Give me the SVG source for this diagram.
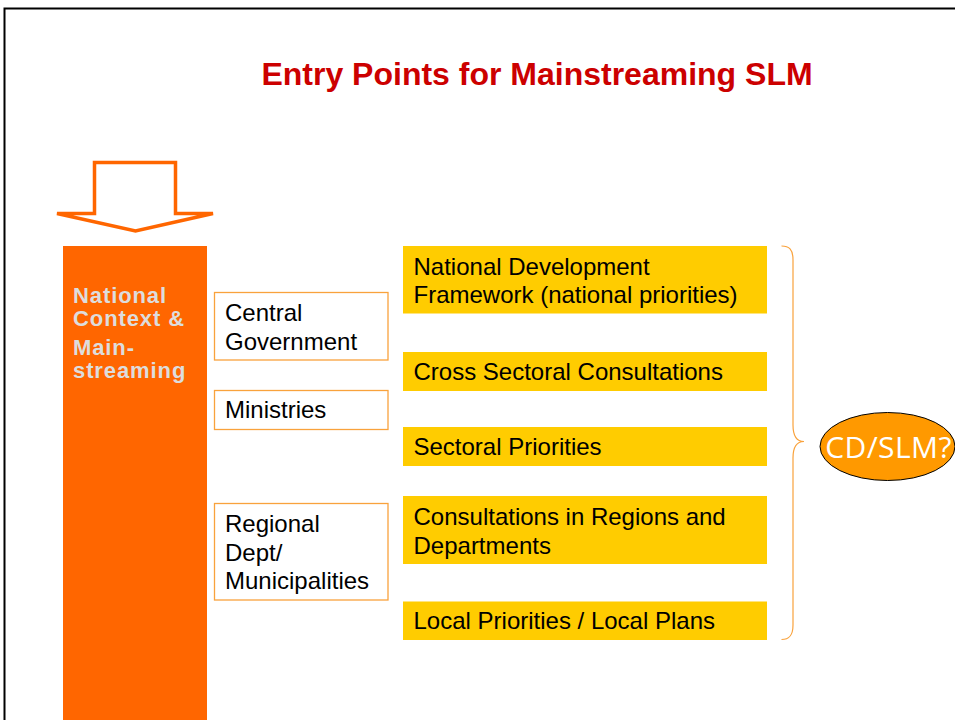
<svg xmlns="http://www.w3.org/2000/svg" width="955" height="720" viewBox="0 0 955 720">
<style>
.t{font-family:"Liberation Sans",Arial,sans-serif;font-size:24px;fill:#000}
.wb{fill:#fff;stroke:#F9A23C;stroke-width:1.3}
.yb{fill:#FFCC00}
.ctx{font-family:"Liberation Sans",Arial,sans-serif;font-size:22px;font-weight:bold;fill:#DDDDDD;letter-spacing:0.9px}
</style>
<rect x="0" y="0" width="955" height="720" fill="#fff"/>
<path d="M4.5,730 V8.5 H960" fill="none" stroke="#000" stroke-width="2"/>
<text x="537" y="85" text-anchor="middle" font-family="'Liberation Sans',Arial,sans-serif" font-size="32" font-weight="bold" fill="#CC0000">Entry Points for Mainstreaming SLM</text>
<g id="arrow">
<polygon points="94.5,162.5 175.5,162.5 175.5,213.5 213,213.5 135.5,231 57,213.5 94.5,213.5" fill="#fff" stroke="#FF6600" stroke-width="3.5" stroke-linejoin="miter"/>
</g>
<g id="context">
<rect x="63" y="246" width="144" height="480" fill="#FF6600"/>
<text class="ctx"><tspan x="73" y="303">National</tspan><tspan x="73" y="326">Context &amp;</tspan><tspan x="73" y="355">Main-</tspan><tspan x="73" y="378">streaming</tspan></text>
</g>
<g id="central">
<rect class="wb" x="214.5" y="292.5" width="173.5" height="67.5"/>
<text class="t"><tspan x="225" y="321">Central</tspan><tspan x="225" y="350">Government</tspan></text>
</g>
<g id="ministries">
<rect class="wb" x="214.5" y="390.5" width="173.5" height="39"/>
<text class="t" x="225" y="418">Ministries</text>
</g>
<g id="regional">
<rect class="wb" x="214.5" y="503.5" width="173.5" height="96.5"/>
<text class="t"><tspan x="225" y="532">Regional</tspan><tspan x="225" y="561">Dept/</tspan><tspan x="225" y="589">Municipalities</tspan></text>
</g>
<g id="ndf">
<rect class="yb" x="403" y="246" width="364" height="67.5"/>
<text class="t"><tspan x="413.5" y="275">National Development</tspan><tspan x="413.5" y="303">Framework (national priorities)</tspan></text>
</g>
<g id="cross">
<rect class="yb" x="403" y="352" width="364" height="39"/>
<text class="t" x="413.5" y="380">Cross Sectoral Consultations</text>
</g>
<g id="sectoral">
<rect class="yb" x="403" y="427" width="364" height="39"/>
<text class="t" x="413.5" y="455">Sectoral Priorities</text>
</g>
<g id="regcons">
<rect class="yb" x="403" y="496" width="364" height="68"/>
<text class="t"><tspan x="413.5" y="525">Consultations in Regions and</tspan><tspan x="413.5" y="554">Departments</tspan></text>
</g>
<g id="local">
<rect class="yb" x="403" y="601.5" width="364" height="38.5"/>
<text class="t" x="413.5" y="629">Local Priorities / Local Plans</text>
</g>
<g id="connectors">
<path d="M781.5,246 C789,246 793,249 793,260 V425 C793,436 797,441.5 804,441.5 C797,441.5 793,447 793,458 V625 C793,636 789,639.5 781.5,639.5" fill="none" stroke="#F9A23C" stroke-width="1.2"/>
</g>
<g id="cdslm">
<ellipse cx="887.5" cy="446.5" rx="67.5" ry="34" fill="#FF9900" stroke="#000" stroke-width="1"/>
<text x="888.5" y="457.5" text-anchor="middle" font-family="'Open Sans','Noto Sans',sans-serif" font-size="30" font-weight="500" letter-spacing="0.4" fill="#fff">CD/SLM?</text>
</g>
</svg>
